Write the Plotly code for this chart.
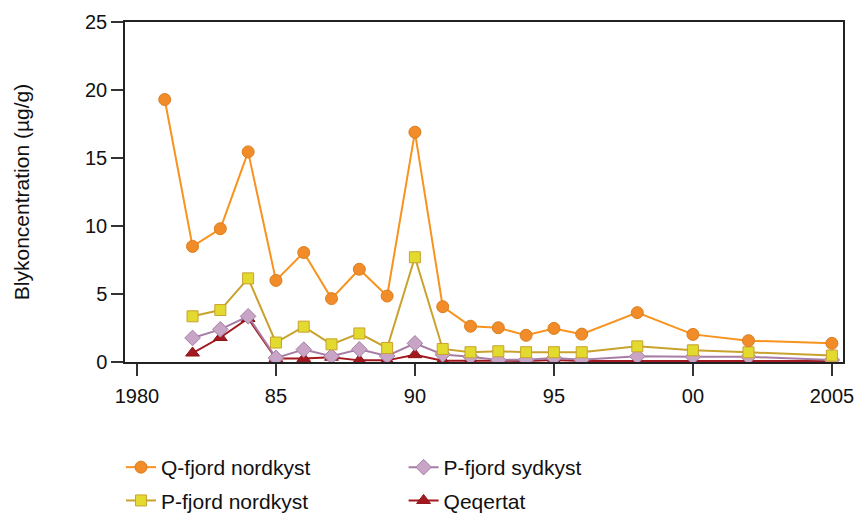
import plotly.graph_objects as go

# Lead concentration (µg/g) by sampling year
years_q = [1981, 1982, 1983, 1984, 1985, 1986, 1987, 1988, 1989, 1990,
           1991, 1992, 1993, 1994, 1995, 1996, 1998, 2000, 2002, 2005]
q_nord = [19.3, 8.5, 9.8, 15.45, 6.0, 8.05, 4.66, 6.82, 4.85, 16.9,
          4.07, 2.63, 2.52, 1.96, 2.47, 2.05, 3.63, 2.03, 1.57, 1.37]

years_p = [1982, 1983, 1984, 1985, 1986, 1987, 1988, 1989, 1990,
           1991, 1992, 1993, 1994, 1995, 1996, 1998, 2000, 2002, 2005]
p_nord = [3.36, 3.82, 6.15, 1.43, 2.6, 1.3, 2.1, 1.03, 7.7,
          0.96, 0.72, 0.79, 0.72, 0.72, 0.72, 1.15, 0.86, 0.71, 0.47]
p_syd = [1.77, 2.4, 3.36, 0.3, 0.91, 0.42, 0.93, 0.44, 1.37,
         0.55, 0.38, 0.15, 0.17, 0.3, 0.17, 0.42, 0.39, 0.38, 0.15]
qeqertat = [0.66, 1.8, 3.2, 0.25, 0.25, 0.35, 0.12, 0.12, 0.54,
            0.1, 0.1, 0.08, 0.08, 0.15, 0.08, 0.08, 0.08, 0.08, 0.08]

x_tickvals = [1980, 1985, 1990, 1995, 2000, 2005]
x_ticktext = ["1980", "85", "90", "95", "00", "2005"]
y_tickvals = [0, 5, 10, 15, 20, 25]

FONT = "Liberation Sans, Arial, Helvetica, sans-serif"

fig = go.Figure()

fig.add_trace(go.Scatter(
    x=years_p, y=qeqertat, name="Qeqertat", mode="lines+markers",
    line=dict(color="#A3191F", width=2),
    marker=dict(symbol="triangle-up", size=12, color="#A3191F",
                line=dict(color="#8E1419", width=1)),
    legend="legend2", legendgroup="qeq", legendrank=2))

fig.add_trace(go.Scatter(
    x=years_p, y=p_syd, name="P-fjord sydkyst", mode="lines+markers",
    line=dict(color="#A77DA5", width=2),
    marker=dict(symbol="diamond", size=12, color="#C8A5C6",
                line=dict(color="#A580A6", width=1)),
    legend="legend2", legendgroup="psyd", legendrank=1))

fig.add_trace(go.Scatter(
    x=years_p, y=p_nord, name="P-fjord nordkyst", mode="lines+markers",
    line=dict(color="#C9A22E", width=2),
    marker=dict(symbol="square", size=11, color="#E2DA2E",
                line=dict(color="#C9A22E", width=1)),
    legend="legend", legendgroup="pnord", legendrank=2))

fig.add_trace(go.Scatter(
    x=years_q, y=q_nord, name="Q-fjord nordkyst", mode="lines+markers",
    line=dict(color="#F7931E", width=2),
    marker=dict(symbol="circle", size=12, color="#F28C28",
                line=dict(color="#D97E20", width=1)),
    legend="legend", legendgroup="qnord", legendrank=1))

legend_style = dict(
    orientation="v", xref="paper", yref="paper",
    xanchor="left", yanchor="top", bgcolor="rgba(0,0,0,0)",
    font=dict(family=FONT, size=21, color="#111111"),
    tracegroupgap=3, itemwidth=30,
)

fig.update_layout(
    width=866, height=516,
    margin=dict(l=125, r=23, t=22, b=154, autoexpand=False),
    paper_bgcolor="white", plot_bgcolor="white",
    font=dict(family=FONT, size=20, color="#111111"),
    showlegend=True,
    legend=dict(x=-0.0056, y=-0.25, **legend_style),
    legend2=dict(x=0.388, y=-0.25, **legend_style),
    xaxis=dict(
        range=[1979.57, 2005.4], tickvals=x_tickvals, ticktext=x_ticktext,
        ticks="outside", ticklen=12, tickwidth=1.5, tickcolor="#333333",
        showline=True, linecolor="#222222", linewidth=1.5, mirror=True,
        showgrid=False, zeroline=False, ticklabelstandoff=3,
        tickfont=dict(family=FONT, size=20, color="#111111"),
    ),
    yaxis=dict(
        range=[0, 25], tickvals=y_tickvals,
        ticks="outside", ticklen=12, tickwidth=1.5, tickcolor="#333333",
        showline=True, linecolor="#222222", linewidth=1.5, mirror=True,
        showgrid=False, zeroline=False,
        tickfont=dict(family=FONT, size=20, color="#111111"),
        title=dict(text="Blykoncentration (µg/g)", standoff=50,
                   font=dict(family=FONT, size=21, color="#111111")),
    ),
)

fig.write_html("out.html")
